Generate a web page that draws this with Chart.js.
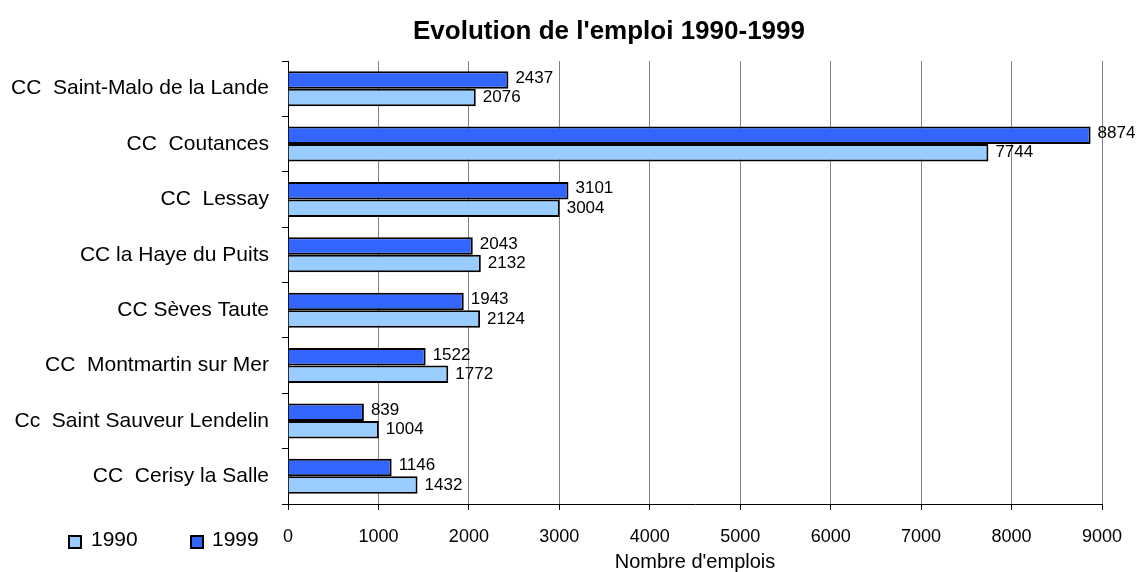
<!DOCTYPE html>
<html>
<head>
<meta charset="utf-8">
<script src="https://cdn.jsdelivr.net/npm/chart.js@4"></script>
<style>
html,body{margin:0;padding:0;background:#fff;}
#wrap{width:1139px;height:572px;position:relative;}
</style>
</head>
<body>
<div id="wrap"><canvas id="c" width="1139" height="572"></canvas></div>
<script>
const categories = [
  "CC  Saint-Malo de la Lande",
  "CC  Coutances",
  "CC  Lessay",
  "CC la Haye du Puits",
  "CC Sèves Taute",
  "CC  Montmartin sur Mer",
  "Cc  Saint Sauveur Lendelin",
  "CC  Cerisy la Salle"
];
const values1999 = [2437, 8874, 3101, 2043, 1943, 1522, 839, 1146];
const values1990 = [2076, 7744, 3004, 2132, 2124, 1772, 1004, 1432];
const xTicks = [0, 1000, 2000, 3000, 4000, 5000, 6000, 7000, 8000, 9000];
const titleText = "Evolution de l'emploi 1990-1999";
const xTitle = "Nombre d'emplois";
const legendItems = [
  {label: "1990", color: "#99CCFF"},
  {label: "1999", color: "#3366FF"}
];

const FONT = "'Liberation Sans', Arial, sans-serif";

const extras = {
  id: 'extras',
  afterDatasetsDraw(chart) {
    const ctx = chart.ctx;
    ctx.save();
    ctx.fillStyle = '#000';
    ctx.font = '17px ' + FONT;
    ctx.textAlign = 'left';
    ctx.textBaseline = 'middle';
    chart.data.datasets.forEach((ds, i) => {
      const meta = chart.getDatasetMeta(i);
      meta.data.forEach((bar, j) => {
        ctx.fillText(String(ds.data[j]), bar.x + 7, bar.y + (i === 0 ? -2 : 0));
      });
    });
    ctx.restore();
  },
  afterDraw(chart) {
    const ctx = chart.ctx;
    ctx.save();
    // title
    ctx.fillStyle = '#000';
    ctx.font = 'bold 26px ' + FONT;
    ctx.textAlign = 'center';
    ctx.textBaseline = 'middle';
    ctx.fillText(titleText, 609, 32);
    // legend
    const pos = [{x: 69, tx: 91}, {x: 191, tx: 212}];
    ctx.font = '21px ' + FONT;
    ctx.textAlign = 'left';
    legendItems.forEach((it, i) => {
      ctx.fillStyle = it.color;
      ctx.fillRect(pos[i].x, 536, 12, 12);
      ctx.strokeStyle = '#000';
      ctx.lineWidth = 2;
      ctx.strokeRect(pos[i].x, 536, 12, 12);
      ctx.fillStyle = '#000';
      ctx.fillText(it.label, pos[i].tx, 540);
    });
    ctx.restore();
  }
};

new Chart(document.getElementById('c'), {
  type: 'bar',
  data: {
    labels: categories,
    datasets: [
      {label: legendItems[1].label, data: values1999, backgroundColor: legendItems[1].color, borderColor: '#000', borderWidth: 2, categoryPercentage: 0.63, barPercentage: 1.0},
      {label: legendItems[0].label, data: values1990, backgroundColor: legendItems[0].color, borderColor: '#000', borderWidth: 2, categoryPercentage: 0.63, barPercentage: 1.0}
    ]
  },
  options: {
    indexAxis: 'y',
    responsive: false,
    animation: false,
    layout: {padding: {top: 61, right: 37, left: 0, bottom: 0}},
    plugins: {
      legend: {display: false},
      title: {display: false},
      tooltip: {enabled: false}
    },
    scales: {
      x: {
        min: 0, max: 9000,
        afterBuildTicks(axis) { axis.ticks = xTicks.map(v => ({value: v})); },
        afterFit(axis) { axis.height = 68; },
        grid: {color: '#808080', lineWidth: 1, tickLength: 6, tickColor: '#000'},
        border: {color: '#000', width: 1},
        ticks: {color: '#000', font: {family: FONT, size: 18}, padding: 16, maxRotation: 0,
                callback: (v) => String(v)},
        title: {display: true, text: xTitle, color: '#000', font: {family: FONT, size: 20, lineHeight: 1.0}, padding: {top: 0, bottom: 0}}
      },
      y: {
        afterFit(axis) { axis.width = 288; },
        grid: {drawOnChartArea: false, offset: true, tickLength: 6, color: '#000'},
        border: {color: '#000', width: 1},
        ticks: {color: '#000', font: {family: FONT, size: 21}, padding: 13}
      }
    }
  },
  plugins: [extras]
});
</script>
</body>
</html>
